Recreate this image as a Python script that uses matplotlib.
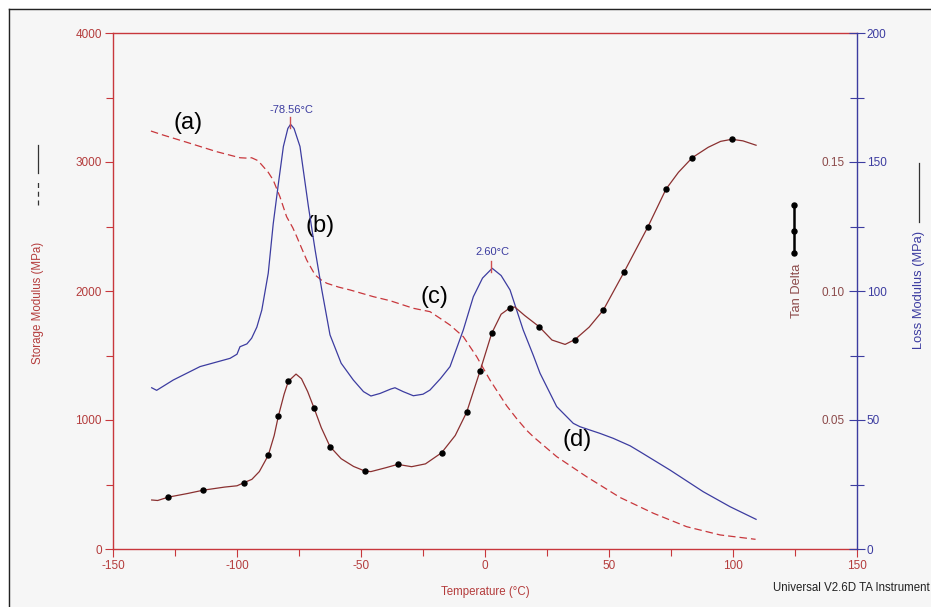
import matplotlib
matplotlib.use("Agg")
import matplotlib.pyplot as plt
from matplotlib.lines import Line2D
from matplotlib.patches import Rectangle

plt.rcParams['font.family'] = ['Liberation Sans', 'DejaVu Sans']
plt.rcParams['axes.unicode_minus'] = False

# ---------------- data ----------------
storage_T = [-134.7, -129.8, -120.3, -108.2, -98.8, -96.0, -94.1, -91.5, -89.4, -87.4,
             -85.4, -82.7, -80.0, -77.5, -75.9, -73.9, -71.9, -68.5, -66.0, -63.8,
             -59.0, -54.4, -45.0, -38.3, -28.9, -22.2, -18.1, -14.1, -8.75, -3.35,
             2.0, 8.75, 12.8, 16.8, 19.5, 28.9, 41.0, 54.4, 67.9, 81.3, 94.8, 109.1]
storage_MPa = [3240, 3209, 3153, 3080, 3033, 3030, 3033, 3010, 2964, 2920,
               2860, 2731, 2576, 2490, 2421, 2330, 2240, 2124, 2085, 2060,
               2030, 2008, 1956, 1925, 1866, 1840, 1788, 1736, 1646, 1491,
               1310, 1110, 1010, 920, 870, 716, 560, 400, 277, 173, 109, 75]

loss_T = [-134.4, -132.4, -125.7, -114.9, -102.8, -100.0, -98.8, -96.0, -94.1, -92.0,
          -90.0, -87.4, -85.4, -83.3, -81.3, -79.5, -78.4, -77.0, -74.6, -71.2,
          -68.5, -65.8, -62.5, -58.0, -53.1, -49.0, -46.0, -42.3, -38.0, -36.3,
          -33.0, -28.9, -25.0, -22.2, -18.0, -14.1, -8.75, -4.7, -1.0, 2.9,
          6.5, 10.1, 15.4, 19.5, 22.2, 28.9, 35.6, 38.3, 46.4, 51.7,
          58.5, 62.5, 74.6, 88.0, 98.8, 109.3]
loss_MPa = [62.5, 61.5, 65.5, 70.7, 73.9, 75.5, 78.4, 79.5, 81.7, 86.0,
            92.6, 106.9, 126.0, 141.7, 156.0, 163.0, 164.6, 163.0, 156.0, 132.7,
            115.9, 100.4, 83.0, 72.0, 65.5, 61.0, 59.3, 60.3, 62.0, 62.5,
            61.0, 59.4, 60.0, 61.6, 66.0, 70.7, 84.9, 97.8, 105.0, 108.8,
            106.0, 100.4, 84.9, 75.0, 68.1, 55.2, 48.7, 47.4, 44.8, 42.9,
            40.0, 37.7, 30.6, 22.2, 16.4, 11.5]

tan_T = [-134.4, -132.0, -127.7, -120.0, -113.6, -105.0, -100.0, -97.2, -94.0, -91.0,
         -87.4, -85.0, -83.3, -81.0, -79.3, -76.2, -74.0, -71.5, -69.0, -66.0,
         -62.5, -58.0, -53.0, -48.4, -46.0, -40.0, -35.2, -29.6, -24.0, -17.5,
         -12.0, -7.4, -2.0, 2.7, 6.5, 10.1, 12.0, 16.0, 21.8, 27.0,
         32.3, 36.3, 42.0, 47.7, 56.0, 65.6, 73.0, 78.0, 83.6, 90.0,
         95.0, 99.5, 104.0, 109.3]
tan_delta = [0.0190, 0.0188, 0.0201, 0.0215, 0.0228, 0.0240, 0.0245, 0.0257, 0.0270, 0.0300,
             0.0363, 0.0440, 0.0516, 0.0600, 0.0650, 0.0678, 0.0660, 0.0610, 0.0548, 0.0470,
             0.0397, 0.0350, 0.0320, 0.0302, 0.0300, 0.0315, 0.0328, 0.0319, 0.0330, 0.0373,
             0.0440, 0.0530, 0.0690, 0.0836, 0.0910, 0.0935, 0.0938, 0.0905, 0.0862, 0.0810,
             0.0793, 0.0812, 0.0860, 0.0926, 0.1072, 0.1247, 0.1395, 0.1460, 0.1517, 0.1557,
             0.1580, 0.1588, 0.1582, 0.1565]

tan_mark_T = [-127.7, -113.6, -97.2, -87.4, -83.3, -79.3, -69.0, -62.5, -48.4, -35.2,
              -17.5, -7.4, -2.0, 2.7, 10.1, 21.8, 36.3, 47.7, 56.0, 65.6, 73.0, 83.6, 99.5]
tan_mark = [0.0201, 0.0228, 0.0257, 0.0363, 0.0516, 0.0650, 0.0548, 0.0397, 0.0302, 0.0328,
            0.0373, 0.0530, 0.0690, 0.0836, 0.0935, 0.0862, 0.0812, 0.0926, 0.1072, 0.1247,
            0.1395, 0.1517, 0.1588]

peak_T = [-78.56, 2.60]
peak_loss = [164.6, 108.8]
peak_labels = ['-78.56°C', '2.60°C']
peak_text_offset = [7, 8]

x_ticks = [-150, -100, -50, 0, 50, 100, 150]
storage_ticks = [0, 1000, 2000, 3000, 4000]
tan_ticks = [0.05, 0.10, 0.15]
tan_tick_labels = ['0.05', '0.10', '0.15']
loss_ticks = [0, 50, 100, 150, 200]

curve_labels = ['(a)', '(b)', '(c)', '(d)']
curve_label_T = [-119.8, -66.5, -20.5, 37.1]
curve_label_y = [3302, 2504, 1953, 845]

# ---------------- styles ----------------
RED = '#c8373c'
RED_TXT = '#b43c3c'
BLUE = '#3c3ca0'
BROWN = '#8a3030'
BROWN_TXT = '#8c4a4a'
BG = '#f6f6f6'

W, H = 931, 607
fig = plt.figure(figsize=(W / 100, H / 100), dpi=100, facecolor=BG)

# outer frame (white margin + dark border)
fig.patches.append(Rectangle((0, 1 - 8 / H), 1, 8 / H, transform=fig.transFigure,
                             facecolor='white', edgecolor='none', zorder=0))
fig.patches.append(Rectangle((0, 0), 8 / W, 1, transform=fig.transFigure,
                             facecolor='white', edgecolor='none', zorder=0))
fig.lines.append(Line2D([8.5 / W, 1], [1 - 8.5 / H, 1 - 8.5 / H], transform=fig.transFigure,
                        color='#222222', lw=1.0))
fig.lines.append(Line2D([8.5 / W, 8.5 / W], [0, 1 - 8.5 / H], transform=fig.transFigure,
                        color='#222222', lw=1.0))

left, right, bottom, top = 113 / W, 857 / W, 1 - 549 / H, 1 - 33 / H
ax = fig.add_axes([left, bottom, right - left, top - bottom])
ax.set_facecolor(BG)
ax_loss = ax.twinx()
ax_tan = ax.twinx()

# storage modulus
ax.plot(storage_T, storage_MPa, color=RED, lw=0.9, dashes=(6, 3.2))
ax.set_xlim(-150, 150)
ax.set_ylim(0, 4000)
ax.set_xticks(x_ticks)
ax.set_xticks([-125, -75, -25, 25, 75, 125], minor=True)
ax.set_yticks(storage_ticks)
ax.set_yticks([500, 1500, 2500, 3500], minor=True)
ax.tick_params(axis='both', which='major', direction='out', length=6, width=0.8,
               color=RED, labelcolor=RED_TXT, labelsize=8.5, pad=2)
ax.tick_params(axis='both', which='minor', direction='out', length=5, width=0.8, color=RED)
for s in ['left', 'bottom', 'top']:
    ax.spines[s].set_color(RED)
    ax.spines[s].set_linewidth(1.0)
ax.spines['right'].set_visible(False)
ax.set_xlabel('Temperature (°C)', color=RED_TXT, fontsize=8.3, labelpad=10)

# loss modulus
ax_loss.plot(loss_T, loss_MPa, color=BLUE, lw=0.9)
ax_loss.set_ylim(0, 200)
ax_loss.set_yticks(loss_ticks)
ax_loss.set_yticks([25, 75, 125, 175], minor=True)
ax_loss.tick_params(axis='y', which='major', direction='inout', length=12, width=0.8,
                    color=BLUE, labelcolor=BLUE, labelsize=8.5, pad=1)
ax_loss.tick_params(axis='y', which='minor', direction='inout', length=10, width=0.8, color=BLUE)
for s in ['left', 'bottom', 'top']:
    ax_loss.spines[s].set_visible(False)
ax_loss.spines['right'].set_color(BLUE)
ax_loss.spines['right'].set_linewidth(1.0)

# peak annotations
for T, v, lab, off in zip(peak_T, peak_loss, peak_labels, peak_text_offset):
    ax_loss.plot([T, T], [v - 1.5, v + 2.8], color='#d05050', lw=1.0)
    ax_loss.annotate(lab, xy=(T, v), xytext=(1, off), textcoords='offset points',
                     ha='center', va='bottom', color=BLUE, fontsize=8)

# tan delta
ax_tan.plot(tan_T, tan_delta, color=BROWN, lw=0.9)
ax_tan.plot(tan_mark_T, tan_mark, linestyle='none', marker='o', color='black', markersize=3.6)
ax_tan.set_ylim(0, 0.2)
ax_tan.spines['left'].set_position(('axes', 1.0))
ax_tan.yaxis.set_ticks_position('left')
ax_tan.set_yticks(tan_ticks)
ax_tan.set_yticklabels(tan_tick_labels)
ax_tan.tick_params(axis='y', length=0, labelcolor=BROWN_TXT, labelsize=8.5, pad=9)
for s in ['left', 'right', 'bottom', 'top']:
    ax_tan.spines[s].set_visible(False)

# curve labels
for lab, T, v in zip(curve_labels, curve_label_T, curve_label_y):
    ax.text(T, v, lab, fontsize=17, ha='center', va='center', color='black')

# axis titles with line-style symbols
fig.text(38 / W, 1 - 303 / H, 'Storage Modulus (MPa)', rotation=90, color=RED_TXT,
         fontsize=8.3, ha='center', va='center')
fig.lines.append(Line2D([38 / W, 38 / W], [1 - 205 / H, 1 - 180 / H], transform=fig.transFigure,
                        color='#333333', lw=0.9, dashes=(4, 3)))
fig.lines.append(Line2D([38 / W, 38 / W], [1 - 173 / H, 1 - 145 / H], transform=fig.transFigure,
                        color='#333333', lw=0.9))

fig.text(797 / W, 1 - 291 / H, 'Tan Delta', rotation=90, color=BROWN_TXT,
         fontsize=9.3, ha='center', va='center')
fig.lines.append(Line2D([794 / W, 794 / W], [1 - 253 / H, 1 - 205 / H], transform=fig.transFigure,
                        color='black', lw=1.8))
fig.lines.append(Line2D([794 / W] * 3, [1 - 253 / H, 1 - 231 / H, 1 - 205 / H],
                        transform=fig.transFigure, linestyle='none', marker='o',
                        color='black', markersize=3.6))

fig.text(919 / W, 1 - 290 / H, 'Loss Modulus (MPa)', rotation=90, color=BLUE,
         fontsize=9.3, ha='center', va='center')
fig.lines.append(Line2D([919 / W, 919 / W], [1 - 222 / H, 1 - 163 / H], transform=fig.transFigure,
                        color='#333333', lw=0.9))

fig.text(930 / W, 1 - 588 / H, 'Universal V2.6D TA Instrument', color='#222222',
         fontsize=8.3, ha='right', va='center')

fig.savefig('out.png', dpi=100, facecolor=BG)
